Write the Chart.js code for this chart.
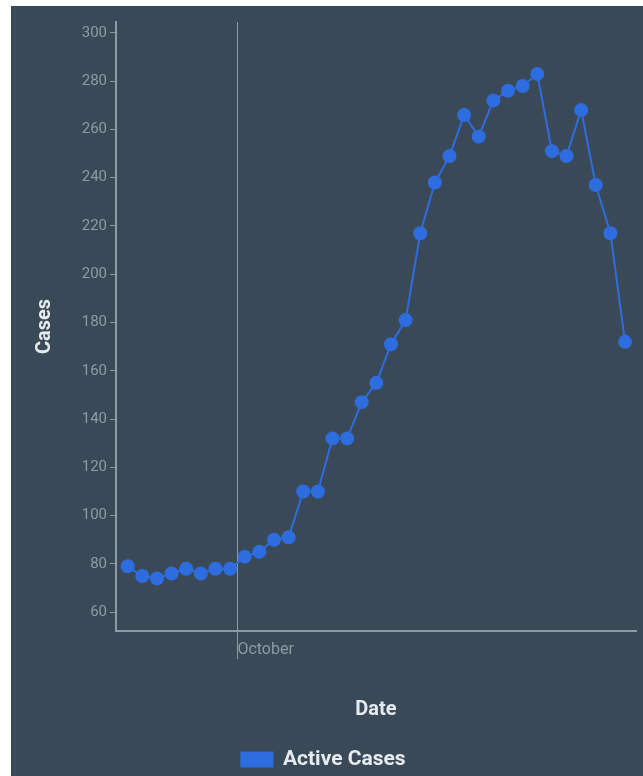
<!DOCTYPE html>
<html>
<head>
<meta charset="utf-8">
<script src="https://cdn.jsdelivr.net/npm/chart.js@4.4.0/dist/chart.umd.min.js"></script>
<style>
  body { margin: 0; background: #fff; }
  #wrap { position: absolute; left: 11px; top: 6px; width: 632px; height: 770px; background: #3a4957; }
</style>
</head>
<body>
<div id="wrap"><canvas id="chart" width="632" height="770"></canvas></div>
<script>
const startDate = "2020-09-23";
const dates = [
  "2020-09-23", "2020-09-24", "2020-09-25", "2020-09-26", "2020-09-27", "2020-09-28", "2020-09-29",
  "2020-09-30", "2020-10-01", "2020-10-02", "2020-10-03", "2020-10-04", "2020-10-05", "2020-10-06",
  "2020-10-07", "2020-10-08", "2020-10-09", "2020-10-10", "2020-10-11", "2020-10-12", "2020-10-13",
  "2020-10-14", "2020-10-15", "2020-10-16", "2020-10-17", "2020-10-18", "2020-10-19", "2020-10-20",
  "2020-10-21", "2020-10-22", "2020-10-23", "2020-10-24", "2020-10-25", "2020-10-26", "2020-10-27"
];
const activeCases = [
  79, 75, 74, 76, 78, 76, 78, 78, 83, 85, 90, 91, 110, 110,
  132, 132, 147, 155, 171, 181, 217, 238, 249, 266, 257, 272, 276,
  278, 283, 251, 249, 268, 237, 217, 172
];
const yTicks = [60, 80, 100, 120, 140, 160, 180, 200, 220, 240, 260, 280, 300];
const monthTicks = [{ date: "2020-10-01", label: "October" }];

const DAY = 86400000;
const dayNum = d => (Date.parse(d) - Date.parse(startDate)) / DAY;
// readings are plotted at midday
const points = dates.map((d, i) => ({ x: dayNum(d) + 0.5, y: activeCases[i] }));

const blue = "#2d6de0";
const grey = "#8e9aa6";
const light = "#e6ebf0";

new Chart(document.getElementById("chart"), {
  type: "line",
  data: {
    datasets: [
      {
        label: "Active Cases",
        data: points,
        borderColor: blue,
        backgroundColor: blue,
        borderWidth: 2,
        pointRadius: 7,
        pointBorderWidth: 0,
        tension: 0,
      },
    ],
  },
  options: {
    responsive: false,
    animation: false,
    layout: { padding: { top: 16, right: 7, left: 0, bottom: -4 } },
    scales: {
      x: {
        type: "linear",
        min: -0.3,
        max: 35.25,
        afterBuildTicks: s => {
          s.ticks = monthTicks.map(t => ({ value: dayNum(t.date), label: t.label }));
        },
        afterFit: s => { s.height = 108; },
        ticks: {
          callback: (v, i, ticks) => ticks[i].label,
          color: grey,
          font: { family: "Roboto", size: 16 },
          align: "start",
          padding: -19,
          maxRotation: 0,
        },
        grid: { color: grey, lineWidth: 1, tickLength: 28 },
        border: { color: grey, width: 2 },
        title: {
          display: true,
          text: "Date",
          color: light,
          font: { family: "Roboto", size: 20, weight: "bold" },
          padding: { bottom: 17 },
        },
      },
      y: {
        min: 52.2,
        max: 304.5,
        afterBuildTicks: s => {
          s.ticks = yTicks.map(v => ({ value: v }));
        },
        afterFit: s => { s.width = 105; },
        ticks: {
          color: grey,
          font: { family: "Roboto", size: 15 },
          padding: 3,
        },
        grid: { drawOnChartArea: false, color: grey, tickLength: 6 },
        border: { color: grey, width: 2 },
        title: {
          display: true,
          text: "Cases",
          color: light,
          font: { family: "Roboto", size: 20, weight: "bold" },
          padding: { top: 22 },
        },
      },
    },
    plugins: {
      legend: {
        position: "bottom",
        labels: {
          color: light,
          font: { family: "Roboto", size: 21, weight: "bold" },
          boxWidth: 31,
          boxHeight: 14,
          padding: 10,
        },
      },
      tooltip: { enabled: false },
    },
  },
});
</script>
</body>
</html>
